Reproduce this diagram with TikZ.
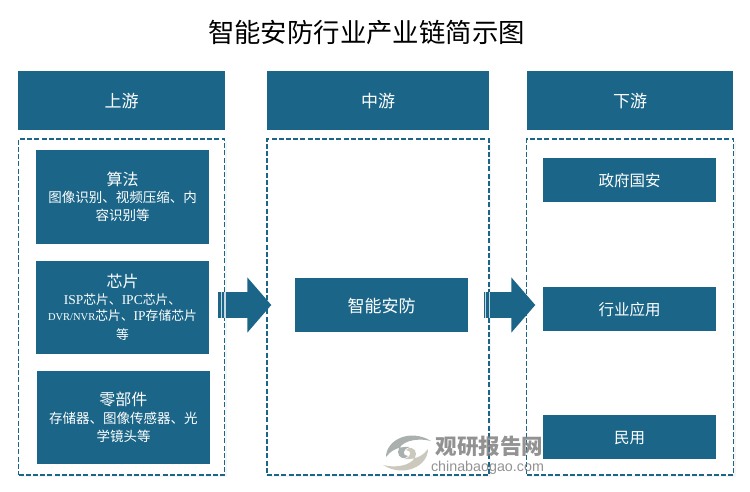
\documentclass[tikz,border=0pt]{standalone}
\usepackage{fontspec}
\setmainfont{Liberation Serif}
\setsansfont{Liberation Sans}
\newfontfamily\cjk{Noto Sans CJK SC}
\newcommand\descfont{\fontsize{13.5}{15.5}\selectfont}
\newcommand\chipfont{\fontsize{12.8}{16}\selectfont}
\newcommand\lat[2][13.5]{{\rmfamily\fontsize{#1}{16}\selectfont #2}}
\usetikzlibrary{arrows.meta, shadows}
\definecolor{bandblue}{HTML}{1B6688}
\definecolor{markgray}{HTML}{A9B0AE}
\definecolor{marktan}{HTML}{CBC8BE}
\begin{document}
\begin{tikzpicture}[
        x=1pt, y=-1pt,
        title/.style={
            font=\fontsize{26.4}{30}\selectfont\cjk,
            text=black
        },
        band/.style={
            % The shape:
            rectangle,
            inner sep=0pt,
            % The filling
            fill=bandblue,
            % Font
            text=white,
            align=center,
            font=\fontsize{15.5}{18}\selectfont\cjk
        },
        head/.style={
            band,
            minimum height=59pt,
            font=\fontsize{17}{20}\selectfont\cjk
        },
        card/.style={
            band,
            minimum width=173pt,
            text width=173pt
        },
        cardhead/.style={
            card,
            font=\fontsize{16}{19}\selectfont\cjk
        },
        frame/.style={
            rectangle,
            inner sep=0pt,
            % The border
            draw=bandblue,
            line width=1.4pt,
            dash pattern=on 5pt off 2.2pt,
            % The filling
            fill=white,
            drop shadow={opacity=.08, shadow xshift=2pt, shadow yshift=-2pt}
        },
        flow/.style={
            bandblue,
            line width=26pt,
            -{Triangle[length=24pt, width=54pt]}
        },
        stripe/.style={
            white!75!bandblue,
            line width=1.3pt
        }]

        \useasboundingbox (0,0) rectangle (750,491);

        \node [title] (heading) at (366.5,33) {智能安防行业产业链简示图};

        % The dashed frames
        \node [frame, minimum width=206pt, minimum height=336pt] (frameup) at (121.5,307) {};
        \node [frame, minimum width=222pt, minimum height=336pt] (framemid) at (378,307) {};
        \node [frame, minimum width=207pt, minimum height=336pt] (framedown) at (630,307) {};

        % The header bands
        \foreach \x/\w/\bandname/\bandtext in {121.5/207/bandup/上游, 378/222/bandmid/中游, 630/206/banddown/下游}
        {
            \node [head, minimum width=\w pt, text height=16pt] (\bandname) at (\x,100.5) {\bandtext};
        }

        % Upstream
        \node [cardhead, minimum height=94pt] (algo) at (122.5,197) {算法\\[1pt]\descfont 图像识别、视频压缩、内\\[-.5pt]容识别等};
        \node [cardhead, minimum height=93pt] (chip) at (122.5,307.5) {芯片\\[.5pt]\chipfont \lat{ISP}芯片、\lat{IPC}芯片、\\\lat[10.5]{DVR/NVR}芯片、\lat{IP}存储芯片\\等};
        \node [cardhead, minimum height=93pt] (parts) at (123.5,417.5) {零部件\\[2pt]\descfont 存储器、图像传感器、光\\[-.5pt]学镜头等};

        % Midstream
        \node [card, minimum height=54pt, text height=16.5pt, font=\fontsize{17}{20}\selectfont\cjk] (security) at (381.5,305) {智能安防};

        % Downstream
        \foreach \y/\cardname/\cardtext in {180/gov/政府国安, 309/trade/行业应用, 437/civil/民用}
        {
            \node [card, minimum height=44pt, text height=14.5pt] (\cardname) at (629.5,\y) {\cardtext};
        }

        % The arrows
        \draw [flow, shorten <=-7pt, shorten >=-5pt] (frameup.east |- security.center) -- (framemid.west |- security.center);
        \draw [flow, shorten <=-6pt, shorten >=-9.5pt] (framemid.east |- security.center) -- (framedown.west |- security.center);
        \foreach \x in {221.5,225,485.5,489.5}
        {
            \draw [stripe] (\x,292) -- (\x,318);
        }

        % The watermark
        \foreach \c/\r in {markgray/0, marktan/180}
        {
            \fill [\c, rotate around={\r:(407,453)}] (386,457) .. controls (386,440) and (410,428) .. (431,441)
                .. controls (415,437) and (399,442) .. (398,452) .. controls (398,458) and (405,460) .. (408,456)
                .. controls (402,456) and (402,449) .. (410,447) .. controls (396,446) and (390,452) .. (386,457) -- cycle;
        }
        \node [text=gray, opacity=.85, font=\fontsize{21.5}{24}\selectfont\cjk\bfseries] (markname) at (489.5,446) {观研报告网};
        \node [text=gray, opacity=.85, font=\fontsize{14.3}{16}\selectfont\sffamily] (markurl) at (487.5,468) {chinabaogao.com};

    \end{tikzpicture}
\end{document}
